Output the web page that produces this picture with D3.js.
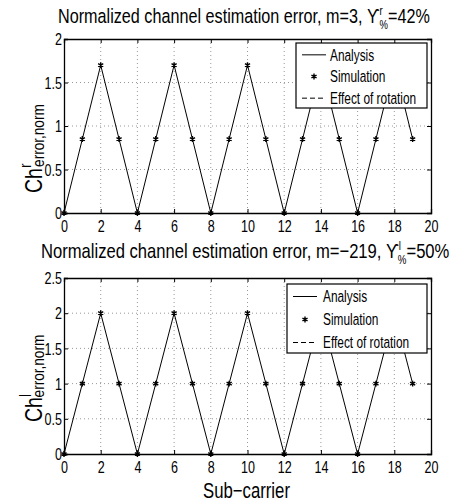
<!DOCTYPE html>
<html>
<head>
<meta charset="utf-8">
<script src="https://cdn.jsdelivr.net/npm/d3@7"></script>
<style>
  body { margin: 0; background: #fff; }
  svg text { font-family: "Liberation Sans", Arial, sans-serif; fill: #000; }
  .grid line { stroke: #999; stroke-dasharray: 1,3; }
</style>
</head>
<body>
<svg id="chart" width="456" height="502"></svg>
<script>
const width = 456, height = 502;
const svg = d3.select('#chart');

// data
const subCarriers = d3.range(0, 20);
const errReal = [0, 0.85, 1.7, 0.85, 0, 0.85, 1.7, 0.85, 0, 0.85, 1.7, 0.85, 0, 0.85, 1.7, 0.85, 0, 0.85, 1.7, 0.85];
const errImag = [0, 1, 2, 1, 0, 1, 2, 1, 0, 1, 2, 1, 0, 1, 2, 1, 0, 1, 2, 1];
const xTicks = [0, 2, 4, 6, 8, 10, 12, 14, 16, 18, 20];
const yTicksReal = [0, 0.5, 1, 1.5, 2];
const yTicksImag = [0, 0.5, 1, 1.5, 2, 2.5];
const legendItems = ['Analysis', 'Simulation', 'Effect of rotation'];

const panels = [
  {top: 39, h: 174, values: errReal, yMax: 2, yTicks: yTicksReal,
   title: ['Normalized channel estimation error, m=3, ', 'r', '=42%'], sup: 'r',
   titleX: 58, titleW: 375, titleY: 23, labelY: 193,
   legend: {x: 296, y: 43, w: 131, h: 65, lx: 302, tx: 330}},
  {top: 278, h: 176, values: errImag, yMax: 2.5, yTicks: yTicksImag,
   title: ['Normalized channel estimation error, m=\u2212219, ', 'l', '=50%'], sup: 'l',
   titleX: 41, titleW: 412, titleY: 258, labelY: 422,
   legend: {x: 287, y: 284, w: 140, h: 69, lx: 293, tx: 323}}
];

const fig = {left: 64, width: 367};

// the original uses a condensed face: squeeze text horizontally about its x
function squeeze(sel, s) {
  sel.each(function() {
    const t = d3.select(this);
    const x0 = +t.attr('x') || 0;
    t.attr('transform', 'translate(' + x0 + ',0) scale(' + s + ',1) translate(' + (-x0) + ',0)');
  });
}

panels.forEach(function(p) {
  const x = d3.scaleLinear().domain([0, 20]).range([fig.left, fig.left + fig.width]);
  const y = d3.scaleLinear().domain([0, p.yMax]).range([p.top + p.h, p.top]);
  const g = svg.append('g');

  // grid
  const grid = g.append('g').attr('class', 'grid');
  grid.selectAll('.gx')
    .data(xTicks.slice(1, -1))
    .join('line')
      .attr('x1', d => x(d)).attr('x2', d => x(d))
      .attr('y1', p.top).attr('y2', p.top + p.h);
  grid.selectAll('.gy')
    .data(p.yTicks.slice(1, -1))
    .join('line')
      .attr('y1', d => y(d)).attr('y2', d => y(d))
      .attr('x1', fig.left).attr('x2', fig.left + fig.width);

  // analysis line
  const line = d3.line().x((d, i) => x(subCarriers[i])).y(d => y(d));
  g.append('path')
    .datum(p.values)
    .attr('d', line)
    .attr('fill', 'none')
    .attr('stroke', '#000')
    .attr('stroke-width', 1);

  // simulation stars
  const star = d3.symbol().type(d3.symbolAsterisk).size(24);
  g.selectAll('.star')
    .data(p.values)
    .join('path')
      .attr('transform', (d, i) => 'translate(' + x(subCarriers[i]) + ',' + y(d) + ')')
      .attr('d', star)
      .attr('fill', 'none')
      .attr('stroke', '#000')
      .attr('stroke-width', 1.4);

  // axes
  const xAxis = d3.axisBottom(x).tickValues(xTicks).tickSize(-4).tickPadding(7).tickFormat(d3.format('d'));
  const yAxis = d3.axisLeft(y).tickValues(p.yTicks).tickSize(-4).tickPadding(2).tickFormat(d => d);
  const ax = g.append('g').attr('transform', 'translate(0,' + (p.top + p.h) + ')').call(xAxis);
  const ay = g.append('g').attr('transform', 'translate(' + fig.left + ',0)').call(yAxis);
  g.append('g').attr('transform', 'translate(0,' + p.top + ')')
    .call(d3.axisTop(x).tickValues(xTicks).tickSize(-4).tickFormat(''));
  g.append('g').attr('transform', 'translate(' + (fig.left + fig.width) + ',0)')
    .call(d3.axisRight(y).tickValues(p.yTicks).tickSize(-4).tickFormat(''));
  g.selectAll('.domain').attr('stroke', '#000').attr('stroke-width', 1.3);
  g.selectAll('.tick line').attr('stroke', '#000');
  ax.selectAll('text').attr('font-size', 16.5).call(squeeze, 0.76);
  ay.selectAll('text').attr('font-size', 16.5).attr('dy', '0.35em').call(squeeze, 0.76);

  // legend
  const L = p.legend;
  const lg = g.append('g');
  lg.append('rect')
    .attr('x', L.x).attr('y', L.y).attr('width', L.w).attr('height', L.h)
    .attr('fill', '#fff').attr('stroke', '#000').attr('stroke-width', 1.2);
  const step = L.h / 3;
  legendItems.forEach(function(name, i) {
    const cy = L.y + step * (i + 0.5) + 1;
    if (i === 0 || i === 2) {
      lg.append('line')
        .attr('x1', L.lx).attr('x2', L.lx + 24).attr('y1', cy).attr('y2', cy)
        .attr('stroke', '#000')
        .attr('stroke-dasharray', i === 2 ? '5,3' : null);
    } else {
      lg.append('path')
        .attr('transform', 'translate(' + (L.lx + 12) + ',' + cy + ')')
        .attr('d', star).attr('fill', 'none').attr('stroke', '#000').attr('stroke-width', 1.4);
    }
    lg.append('text')
      .attr('x', L.tx).attr('y', cy).attr('dy', '0.36em')
      .attr('font-size', 16.5)
      .text(name)
      .call(squeeze, 0.72);
  });

  // title
  const t = g.append('text').attr('x', p.titleX).attr('y', p.titleY).attr('font-size', 20.5);
  t.append('tspan').text(p.title[0] + '\u03D2');
  t.append('tspan').attr('font-size', 12).attr('dy', -8).text(p.sup);
  t.append('tspan').attr('font-size', 12).attr('dx', -4).attr('dy', 14).text('%');
  t.append('tspan').attr('dy', -6).text(p.title[2]);
  const tw = t.node().getComputedTextLength();
  t.call(squeeze, p.titleW / tw);

  // y label
  const yl = g.append('g')
    .attr('transform', 'translate(42,' + p.labelY + ') rotate(-90)')
    .append('text')
    .attr('font-size', 23);
  yl.append('tspan').text('Ch');
  yl.append('tspan').attr('font-size', 16).attr('dy', -11).text(p.sup);
  yl.append('tspan').attr('font-size', 16).attr('dx', -4).attr('dy', 13).text('error,norm');
  yl.call(squeeze, 0.85);
});

const xl = svg.append('text')
  .attr('x', fig.left + fig.width / 2 - 1)
  .attr('y', 498)
  .attr('text-anchor', 'middle')
  .attr('font-size', 22)
  .text('Sub\u2212carrier');
xl.call(squeeze, 87 / xl.node().getComputedTextLength());
</script>
</body>
</html>
